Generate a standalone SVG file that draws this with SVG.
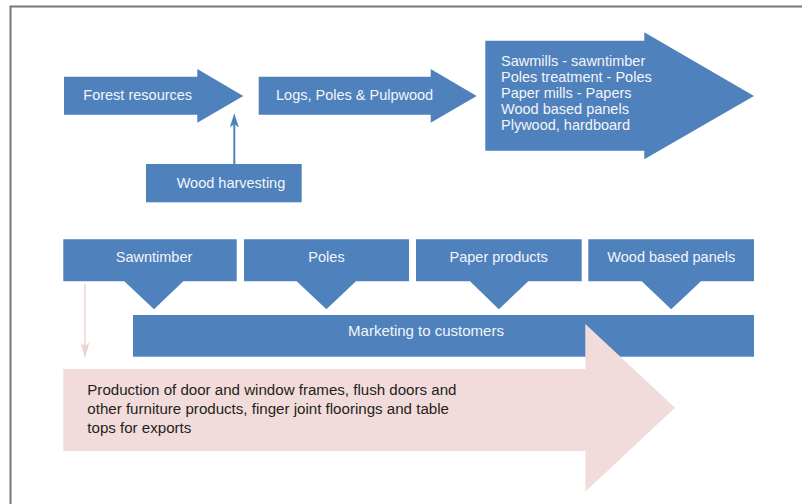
<svg xmlns="http://www.w3.org/2000/svg" width="802" height="504" viewBox="0 0 802 504">
  <defs>
    <style>
      .blue { fill: #4f81bd; }
      .pink { fill: #f2dcdb; }
      .lbl { font-family: "Liberation Sans", Arial, sans-serif; font-size: 14.5px; fill: #f3f5f9; }
      .mid { text-anchor: middle; }
      .dark { font-family: "Liberation Sans", Arial, sans-serif; font-size: 15.1px; fill: #231f20; }
      .frame { fill: none; stroke: #777777; stroke-width: 2; }
    </style>
    <marker id="headBlue" markerUnits="userSpaceOnUse" viewBox="0 0 14 9" refX="3" refY="4.5" markerWidth="14" markerHeight="9" orient="auto">
      <path d="M0,0 L14,4.5 L0,9 L3,4.5 Z" fill="#4f81bd"/>
    </marker>
    <marker id="headPink" markerUnits="userSpaceOnUse" viewBox="0 0 16 9" refX="4" refY="4.5" markerWidth="16" markerHeight="9" orient="auto">
      <path d="M0,0 L16,4.5 L0,9 L4,4.5 Z" fill="#efd3d3"/>
    </marker>
  </defs>

  <rect width="802" height="504" fill="#ffffff"/>
  <!-- outer frame (open to the right and bottom) -->
  <path class="frame" d="M10.5,504 V6.5 H802"/>

  <!-- supply chain, top row -->
  <g id="forest-resources">
    <path class="blue" d="M64,76.7 H197.3 V69 L243.3,96 L197.3,122.7 V114.7 H64 Z"/>
    <text class="lbl" x="83.3" y="99.5">Forest resources</text>
  </g>

  <g id="wood-harvesting">
    <rect class="blue" x="146" y="164" width="155.7" height="38.3"/>
    <text class="lbl" x="176.7" y="188">Wood harvesting</text>
  </g>

  <g id="logs-poles-pulpwood">
    <path class="blue" d="M258.7,76.7 H430.7 V69 L476.7,96 L430.7,122.7 V114.7 H258.7 Z"/>
    <text class="lbl" x="276" y="99.5">Logs, Poles &amp; Pulpwood</text>
  </g>

  <g id="processing">
    <path class="blue" d="M485.3,40.7 H644.3 V32.3 L754,96 L644.3,159.3 V150.7 H485.3 Z"/>
    <text class="lbl" x="501" y="66">Sawmills - sawntimber</text>
    <text class="lbl" x="501" y="82">Poles treatment - Poles</text>
    <text class="lbl" x="501" y="98">Paper mills - Papers</text>
    <text class="lbl" x="501" y="114">Wood based panels</text>
    <text class="lbl" x="501" y="130">Plywood, hardboard</text>
  </g>

  <!-- product callouts -->
  <g id="sawntimber">
    <path class="blue" d="M63.3,239.3 H236.7 V281.3 H183.3 L154,309.3 L124.3,281.3 H63.3 Z"/>
    <text class="lbl mid" x="154" y="262">Sawntimber</text>
  </g>

  <g id="poles">
    <path class="blue" d="M244,239.3 H409 V281.3 H356 L326.4,309.3 L296.7,281.3 H244 Z"/>
    <text class="lbl mid" x="326.5" y="262">Poles</text>
  </g>

  <g id="paper-products">
    <path class="blue" d="M416,239.3 H581.7 V281.3 H528.3 L498.8,309.3 L470,281.3 H416 Z"/>
    <text class="lbl mid" x="498.7" y="262">Paper products</text>
  </g>

  <g id="wood-based-panels">
    <path class="blue" d="M588.3,239.3 H754 V281.3 H701 L671.2,309.3 L641.7,281.3 H588.3 Z"/>
    <text class="lbl mid" x="671.3" y="262">Wood based panels</text>
  </g>

  <g id="marketing">
    <rect class="blue" x="133" y="315" width="621" height="41.7"/>
    <text class="lbl mid" x="426" y="336" style="font-size:15px">Marketing to customers</text>
  </g>

  <g id="production">
    <path class="pink" d="M63.3,369 H585.3 V324 L675,407.7 L585.3,491.7 V451 H63.3 Z"/>
    <text class="dark" x="87.3" y="395">Production of door and window frames, flush doors and</text>
    <text class="dark" x="87.3" y="414">other furniture products, finger joint floorings and table</text>
    <text class="dark" x="87.3" y="433">tops for exports</text>
  </g>

  <!-- connectors -->
  <g id="connectors">
    <line x1="234.3" y1="164" x2="234.3" y2="124.3" stroke="#4f81bd" stroke-width="2" marker-end="url(#headBlue)"/>
    <line x1="85" y1="284" x2="85" y2="346.3" stroke="#efd3d3" stroke-width="1.5" marker-end="url(#headPink)"/>
  </g>
</svg>
